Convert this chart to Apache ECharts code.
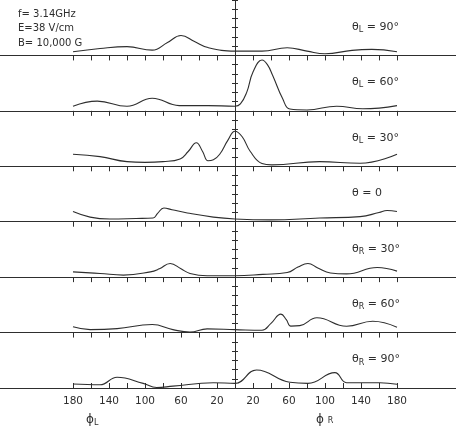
<!DOCTYPE html>
<html>
<head>
<meta charset="utf-8">
<script src="https://cdn.jsdelivr.net/npm/echarts@6/dist/echarts.min.js"></script>
<style>
  html, body { margin: 0; padding: 0; background: #fff; }
  #chart { width: 456px; height: 432px; }
</style>
</head>
<body>
<div id="chart"></div>
<script>
// angle phi: negative = phi_L side, positive = phi_R side; values in axis-tick units
const thetaL90 = [[-180,0.4],[-150,0.75],[-120,0.95],[-92,0.57],[-75,1.4],[-60,2.15],[-45,1.5],[-30,0.85],[0,0.47],[30,0.47],[58,0.83],[80,0.47],[100,0.18],[130,0.55],[152,0.65],[180,0.4]]
const thetaL60 = [[-180,0.5],[-153,1.05],[-120,0.5],[-92,1.37],[-62,0.57],[-30,0.57],[0,0.5],[6,0.75],[13,2.0],[20,4.2],[30,5.5],[36,5.0],[42,3.8],[53,1.3],[61,0.2],[80,0.1],[113,0.5],[142,0.22],[180,0.57]]
const thetaL30 = [[-180,1.3],[-150,1.05],[-120,0.5],[-100,0.42],[-80,0.5],[-61,0.8],[-52,1.6],[-43,2.55],[-36,1.6],[-30,0.6],[-24,0.7],[-17,1.3],[-8,2.8],[0,3.8],[8,3.2],[17,1.6],[30,0.3],[41,0.15],[94,0.5],[139,0.33],[180,1.3]]
const theta0 = [[-180,1.1],[-161,0.5],[-139,0.3],[-110,0.35],[-91,0.4],[-86,0.9],[-79,1.48],[-70,1.3],[-53,0.95],[-24,0.5],[0,0.3],[39,0.2],[94,0.4],[139,0.55],[160,1.0],[169,1.22],[180,1.1]]
const thetaR30 = [[-180,0.57],[-150,0.4],[-124,0.22],[-94,0.57],[-84,0.9],[-72,1.48],[-60,0.9],[-50,0.4],[-31,0.15],[0,0.15],[31,0.3],[58,0.5],[70,1.1],[81,1.48],[92,1.0],[106,0.45],[124,0.35],[158,1.05],[180,0.65]]
const thetaR60 = [[-180,0.62],[-161,0.32],[-131,0.43],[-92,0.87],[-69,0.32],[-50,0.05],[-31,0.4],[0,0.32],[30,0.25],[40,1.0],[51,2.0],[57,1.4],[62,0.7],[72,0.75],[91,1.6],[124,0.68],[153,1.22],[180,0.57]]
const thetaR90 = [[-180,0.43],[-150,0.35],[-131,1.16],[-102,0.5],[-87,0.05],[-69,0.2],[-24,0.57],[0,0.5],[24,1.95],[61,0.62],[81,0.5],[111,1.66],[124,0.57],[161,0.57],[180,0.4]]

const panels = [thetaL90, thetaL60, thetaL30, theta0, thetaR30, thetaR60, thetaR90]
const panelSub = ['L', 'L', 'L', '', 'R', 'R', 'R']
const panelAngle = ['90°', '60°', '30°', '0', '30°', '60°', '90°']

const phiTicks = [-180,-160,-140,-120,-100,-80,-60,-40,-20,0,20,40,60,80,100,120,140,160,180]
const phiLabels = [-180,-140,-100,-60,-20,20,60,100,140,180]
const infoLines = ['f= 3.14GHz', 'E=38 V/cm', 'B= 10,000 G']

const W = 456
const centerX = 235
const degPx = 0.9
const panelH = 388 / 7
const ink = '#2e2e2e'
const font = 'DejaVu Sans'

const xMin = -centerX / degPx
const xMax = (W - centerX) / degPx

const chart = echarts.init(document.getElementById('chart'))

const grid = [], xAxis = [], yAxis = [], series = [], graphic = []

panels.forEach(function(data, i) {
      const last = i === panels.length - 1
      grid.push({ left: 0, right: 0, top: panelH * i, height: panelH })
      xAxis.push({
            type: 'value', gridIndex: i, min: xMin, max: xMax,
            splitLine: { show: false },
            axisLine: { lineStyle: { color: ink, width: 1 } },
            axisTick: { customValues: phiTicks, length: 5, inside: last, lineStyle: { color: ink } },
            axisLabel: last ? {
                  customValues: phiLabels, margin: 8, color: ink, fontSize: 10.5, fontFamily: font,
                  formatter: function(v) { return String(Math.abs(v)) }
            } : { show: false }
      })
      yAxis.push({ type: 'value', gridIndex: i, min: 0, max: 6, show: false })
      series.push({
            type: 'line', xAxisIndex: i, yAxisIndex: i, data: data,
            smooth: 0.45, showSymbol: false, silent: true,
            lineStyle: { color: ink, width: 1.1 }
      })
      graphic.push({
            type: 'text', left: 352, top: panelH * (i + 1) - 34,
            style: {
                  text: '{t|θ}' + (panelSub[i] ? '{s|' + panelSub[i] + '}' : '') + '{t| = ' + panelAngle[i] + '}',
                  rich: {
                        t: { fontSize: 11, fontFamily: font, fill: ink },
                        s: { fontSize: 8, fontFamily: font, fill: ink, padding: [6, 0, 0, 0] }
                  }
            }
      })
})

// central vertical scale: two overlaid grids so the ticks cross the line
;[false, true].forEach(function(inside) {
      const g = grid.length
      grid.push({ left: 0, right: 0, top: 0, height: 388 })
      xAxis.push({ type: 'value', gridIndex: g, min: xMin, max: xMax, show: false })
      yAxis.push({
            type: 'value', gridIndex: g, min: 0, max: 42, interval: 1,
            axisLine: { show: !inside, onZero: true, lineStyle: { color: ink, width: 1 } },
            axisTick: { show: true, inside: inside, length: 3, lineStyle: { color: ink } },
            axisLabel: { show: false }, splitLine: { show: false }
      })
})

infoLines.forEach(function(t, i) {
      graphic.push({ type: 'text', left: 18, top: 9 + i * 14.5, style: { text: t, fontSize: 10, fontFamily: font, fill: ink } })
})
graphic.push({
      type: 'text', left: 86, top: 414,
      style: { text: '{t|ϕ}{s|L}', rich: { t: { fontSize: 12, fontFamily: font, fill: ink }, s: { fontSize: 8, fontFamily: font, fill: ink, padding: [6, 0, 0, 0] } } }
})
graphic.push({
      type: 'text', left: 316, top: 414,
      style: { text: '{t|ϕ }{s|R}', rich: { t: { fontSize: 12, fontFamily: font, fill: ink }, s: { fontSize: 8, fontFamily: font, fill: ink, padding: [2, 0, 0, 0] } } }
})

chart.setOption({
      animation: false,
      backgroundColor: '#fff',
      grid: grid,
      xAxis: xAxis,
      yAxis: yAxis,
      series: series,
      graphic: graphic
})
</script>
</body>
</html>
